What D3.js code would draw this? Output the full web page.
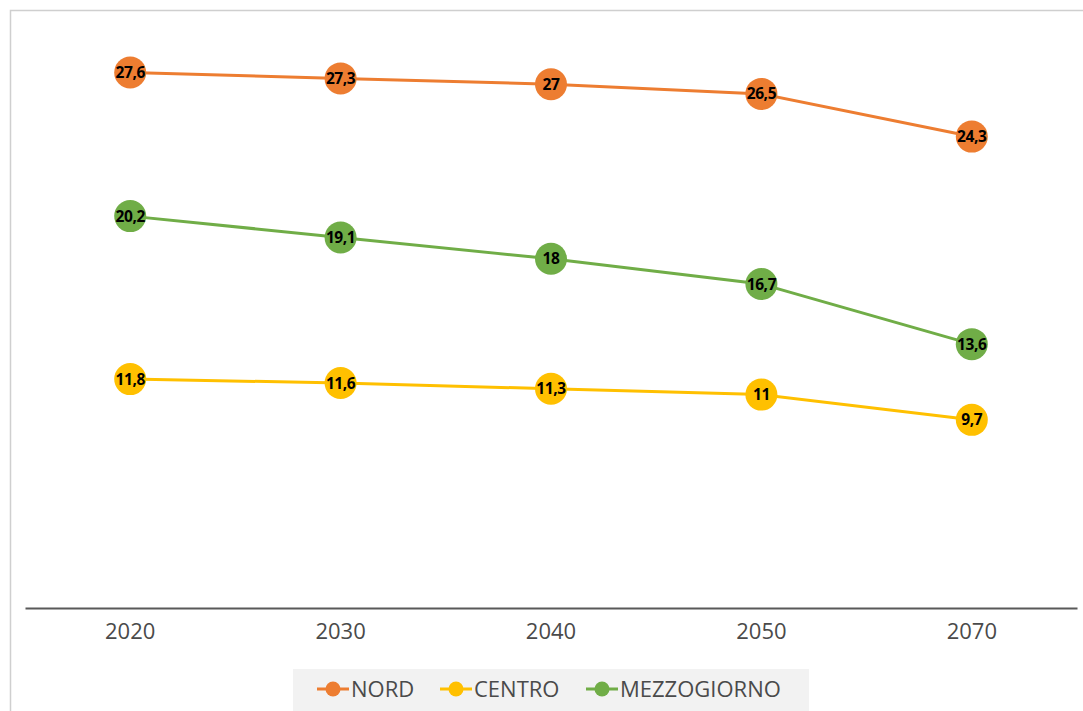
<!DOCTYPE html>
<html><head><meta charset="utf-8">
<script src="https://cdn.jsdelivr.net/npm/d3@7"></script>
<style>body{margin:0;background:#fff;}svg{display:block;}</style>
</head><body>
<svg id="c" width="1083" height="711"></svg>
<script>
const categories = ["2020","2030","2040","2050","2070"];
const nord = [27.6, 27.3, 27, 26.5, 24.3];
const centro = [11.8, 11.6, 11.3, 11, 9.7];
const mezzogiorno = [20.2, 19.1, 18, 16.7, 13.6];
const seriesNames = ["NORD","CENTRO","MEZZOGIORNO"];
const seriesColors = ["#ED7D31","#FFC000","#70AD47"];
const series = [nord, centro, mezzogiorno].map((v,i)=>({name:seriesNames[i], color:seriesColors[i], values:v}));

const svg = d3.select("#c");
svg.append("rect").attr("x",10.5).attr("y",10.5).attr("width",1100).attr("height",720)
  .attr("fill","#fff").attr("stroke","#cfcfcf").attr("stroke-width",1.5);

const x = d3.scaleBand().domain(categories).range([25,1077]).padding(0);
const y = d3.scaleLinear().domain([0,30]).range([608,26]);
const cx = d => x(d)+x.bandwidth()/2;

const ax = svg.append("g").attr("transform","translate(0,608)")
  .call(d3.axisBottom(x).tickSize(0).tickSizeOuter(0).tickPadding(15));
ax.select(".domain").attr("stroke","#595959").attr("stroke-width",2);
ax.selectAll("text").attr("font-family","'Open Sans'").attr("font-size",22).attr("fill","#4a4a4a");

const line = d3.line().x((d,i)=>cx(categories[i])).y(d=>y(d));
series.forEach(s=>{
  svg.append("path").datum(s.values).attr("d",line).attr("fill","none")
    .attr("stroke",s.color).attr("stroke-width",3);
});
series.forEach(s=>{
  const g = svg.append("g");
  g.selectAll("circle").data(s.values).join("circle")
    .attr("cx",(d,i)=>cx(categories[i])).attr("cy",d=>y(d)).attr("r",16).attr("fill",s.color);
  g.selectAll("text").data(s.values).join("text")
    .attr("x",(d,i)=>cx(categories[i])).attr("y",d=>y(d)).attr("dy","0.36em")
    .attr("text-anchor","middle").attr("font-family","'Open Sans'").attr("font-weight",700)
    .attr("font-size",15.5).attr("fill","#000").attr("letter-spacing",-0.4)
    .text(d=>String(d).replace(".",","));
});

const lg = svg.append("g");
lg.append("rect").attr("x",293).attr("y",669).attr("width",516).attr("height",50).attr("fill","#f2f2f2");
const legX = [317, 440, 586];
series.forEach((s,i)=>{
  const g = lg.append("g").attr("transform",`translate(${legX[i]},689)`);
  g.append("line").attr("x1",0).attr("x2",32).attr("stroke",s.color).attr("stroke-width",3);
  g.append("circle").attr("cx",16).attr("r",7.5).attr("fill",s.color);
  g.append("text").attr("x",34).attr("dy","0.35em").attr("font-family","'Open Sans'")
    .attr("font-size",22).attr("fill","#4a4a4a").text(s.name);
});
</script>
</body></html>
